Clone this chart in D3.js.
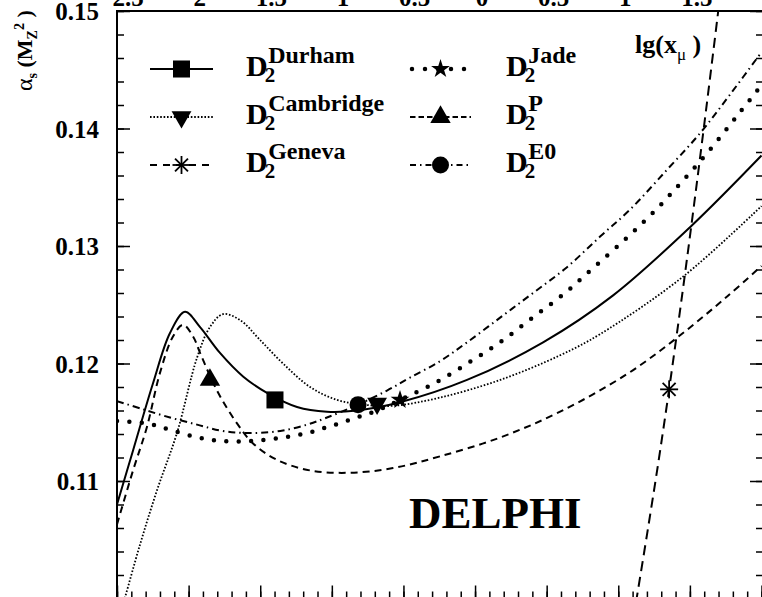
<!DOCTYPE html>
<html>
<head>
<meta charset="utf-8">
<script src="https://cdn.jsdelivr.net/npm/d3@7"></script>
<style>
  body { margin: 0; background: #fff; }
  svg { display: block; }
  text { font-family: "Liberation Serif", "Times New Roman", serif; font-weight: bold; fill: #000; }
</style>
</head>
<body>
<div class="svg-container"></div>
<script>
// curves: lg(x_mu) and alpha_s(M_Z^2)
const durhamLg  = [-2.5, -2.388, -2.249, -2.13, -2.025, -1.92, -1.781, -1.62, -1.453, -1.243, -1.034, -0.824, -0.524, -0.056, 0.475, 0.964, 1.501, 2.0];
const durhamVal = [0.1080, 0.1126, 0.1183, 0.1226, 0.1244, 0.1231, 0.1209, 0.1189, 0.1175, 0.1163, 0.1159, 0.1160, 0.1167, 0.1186, 0.1218, 0.1258, 0.1316, 0.1377];

const cambridgeLg  = [-2.5, -2.444, -2.339, -2.221, -2.081, -1.941, -1.851, -1.76, -1.641, -1.501, -1.341, -1.152, -0.964, -0.782, -0.573, -0.244, 0.175, 0.594, 0.873, 1.453, 2.0];
const cambridgeVal = [0.0978, 0.1001, 0.1046, 0.1092, 0.1141, 0.1205, 0.1231, 0.1242, 0.1237, 0.1220, 0.1200, 0.1180, 0.1169, 0.1165, 0.1164, 0.1171, 0.1186, 0.1207, 0.1225, 0.1274, 0.1334];

const genevaLg  = [1.05, 1.124, 1.20, 1.28, 1.355, 1.45, 1.53, 1.61, 1.69, 1.75];
const genevaVal = [0.0943, 0.0997, 0.1054, 0.1116, 0.1178, 0.1262, 0.1336, 0.1413, 0.1492, 0.1553];

const jadeLg  = [-2.5, -2.291, -2.116, -1.934, -1.76, -1.578, -1.397, -1.201, -1.027, -0.852, -0.684, -0.524, -0.272, -0.028, 0.196, 0.412, 0.628, 0.831, 1.068, 1.264, 1.446, 1.627, 1.851, 2.0];
const jadeVal = [0.1151, 0.1149, 0.1143, 0.1137, 0.1134, 0.1134, 0.1136, 0.1140, 0.1146, 0.1153, 0.1160, 0.1169, 0.1184, 0.1202, 0.1220, 0.1240, 0.1260, 0.1282, 0.1308, 0.1331, 0.1355, 0.1380, 0.1414, 0.1437];

const pLg  = [-2.5, -2.388, -2.291, -2.2, -2.109, -2.039, -1.969, -1.92, -1.802, -1.662, -1.55, -1.383, -1.152, -0.873, -0.573, -0.244, 0.175, 0.594, 1.061, 1.411, 1.76, 2.0];
const pVal = [0.1063, 0.1109, 0.1146, 0.1192, 0.1223, 0.1233, 0.1223, 0.1209, 0.1177, 0.1149, 0.1132, 0.1118, 0.1109, 0.1107, 0.1111, 0.1121, 0.1137, 0.1159, 0.1191, 0.1222, 0.1257, 0.1283];

const e0Lg  = [-2.5, -2.318, -2.13, -1.941, -1.781, -1.641, -1.501, -1.341, -1.173, -1.034, -0.817, -0.615, -0.454, -0.244, -0.056, 0.175, 0.405, 0.642, 0.873, 1.082, 1.341, 1.571, 1.781, 2.0];
const e0Val = [0.1168, 0.1161, 0.1154, 0.1148, 0.1143, 0.1141, 0.1141, 0.1143, 0.1148, 0.1154, 0.1165, 0.1177, 0.1188, 0.1202, 0.1218, 0.1239, 0.1260, 0.1282, 0.1308, 0.1331, 0.1365, 0.1396, 0.1429, 0.1465];

// one marker per scheme
const schemeNames = ["Durham", "Cambridge", "Geneva", "Jade", "P", "E0"];
const markerLg  = [-1.397, -0.684, 1.355, -0.524, -1.851, -0.817];
const markerVal = [0.1169, 0.1166, 0.1178, 0.1169, 0.1186, 0.1165];

const xTickLabels = ["-2.5", "-2", "-1.5", "-1", "-0.5", "0", "0.5", "1", "1.5", "2"];
const yTickValues = [0.11, 0.12, 0.13, 0.14, 0.15];

document.addEventListener("DOMContentLoaded", () => {

  let width = 762, height = 597;
  let plot = { left: 117, right: 761.5, top: 11, bottom: 598.5 };

  let svg = d3.select(".svg-container").append("svg")
    .attr("width", width)
    .attr("height", height);

  let x = d3.scaleLinear().domain([-2.5, 2]).range([plot.left, plot.right]);
  let y = d3.scaleLinear().domain([0.10, 0.15]).range([plot.bottom, plot.top]);

  // line styles per scheme (legend samples use slightly shorter dashes)
  let styles = {
    Durham:    { lg: durhamLg, val: durhamVal, width: 2, dash: null, legendDash: null },
    Cambridge: { lg: cambridgeLg, val: cambridgeVal, width: 1.8, dash: "1.6 1.8", legendDash: "1.6 1.8" },
    Geneva:    { lg: genevaLg, val: genevaVal, width: 2, dash: "10 6", legendDash: "7 6" },
    Jade:      { lg: jadeLg, val: jadeVal, width: 4.5, dash: "0 12.4", legendDash: "0 13", cap: "round" },
    P:         { lg: pLg, val: pVal, width: 2, dash: "7 5", legendDash: "5.5 3" },
    E0:        { lg: e0Lg, val: e0Val, width: 2, dash: "7 4 1.5 4", legendDash: "6 4 1.5 4" }
  };

  svg.append("clipPath").attr("id", "plotclip")
    .append("rect")
    .attr("x", plot.left).attr("y", plot.top)
    .attr("width", 763 - plot.left).attr("height", plot.bottom - plot.top);

  let line = d3.line()
    .x(d => x(d[0]))
    .y(d => y(d[1]))
    .curve(d3.curveCatmullRom.alpha(0.5));

  let curves = svg.append("g").attr("clip-path", "url(#plotclip)");

  schemeNames.forEach(name => {
    let s = styles[name];
    curves.append("path")
      .datum(d3.zip(s.lg, s.val))
      .attr("fill", "none")
      .attr("stroke", "#000")
      .attr("stroke-width", s.width)
      .attr("stroke-dasharray", s.dash)
      .attr("stroke-linecap", s.cap || "butt")
      .attr("d", line);
  });

  // marker shapes
  let drawMarker = (g, name, cx, cy) => {
    let m = g.append("g").attr("transform", "translate(" + cx + "," + cy + ")");
    if (name == "Durham") {
      m.append("path").attr("d", d3.symbol(d3.symbolSquare, 290)());
    } else if (name == "Cambridge") {
      m.append("path").attr("d", d3.symbol(d3.symbolTriangle, 170)()).attr("transform", "rotate(180)");
    } else if (name == "Geneva") {
      let r = 9;
      let arms = [[-r, 0, r, 0], [0, -r, 0, r], [-r * 0.72, -r * 0.72, r * 0.72, r * 0.72], [-r * 0.72, r * 0.72, r * 0.72, -r * 0.72]];
      arms.forEach(a => m.append("line")
        .attr("x1", a[0]).attr("y1", a[1]).attr("x2", a[2]).attr("y2", a[3])
        .attr("stroke", "#000").attr("stroke-width", 1.8));
    } else if (name == "Jade") {
      m.append("path").attr("d", d3.symbol(d3.symbolStar, 110)());
    } else if (name == "P") {
      m.append("path").attr("d", d3.symbol(d3.symbolTriangle, 180)());
    } else {
      m.append("circle").attr("r", 8.5);
    }
    m.selectAll("path, circle").attr("fill", "#000");
  };

  schemeNames.forEach((name, i) => {
    drawMarker(svg, name, x(markerLg[i]), y(markerVal[i]));
  });

  // frame
  svg.append("line")
    .attr("x1", plot.left).attr("x2", plot.left)
    .attr("y1", plot.top - 1).attr("y2", height)
    .attr("stroke", "#000").attr("stroke-width", 2);
  svg.append("line")
    .attr("x1", plot.left - 1).attr("x2", width)
    .attr("y1", plot.top).attr("y2", plot.top)
    .attr("stroke", "#000").attr("stroke-width", 2);

  let majorY = d3.range(0.10, 0.1501, 0.01);
  let minorY = d3.range(0.10, 0.1501, 0.002);
  let majorX = d3.range(-2.5, 2.01, 0.5);
  let minorX = d3.range(-2.5, 2.01, 0.1);

  let tickAxis = (axis, tx, ty) => {
    let g = svg.append("g")
      .attr("transform", "translate(" + tx + "," + ty + ")")
      .call(axis);
    g.select(".domain").remove();
    g.selectAll("line").attr("stroke-width", 1.5);
    return g;
  };

  // left ticks point inwards
  tickAxis(d3.axisRight(y).tickValues(minorY).tickSize(7).tickFormat(""), plot.left, 0);
  tickAxis(d3.axisRight(y).tickValues(majorY).tickSize(13).tickFormat(""), plot.left, 0);
  // right ticks
  tickAxis(d3.axisLeft(y).tickValues(minorY).tickSize(7).tickFormat(""), 763, 0);
  tickAxis(d3.axisLeft(y).tickValues(majorY).tickSize(13).tickFormat(""), 763, 0);
  // bottom ticks
  tickAxis(d3.axisTop(x).tickValues(minorX).tickSize(7).tickFormat(""), 0, plot.bottom);
  tickAxis(d3.axisTop(x).tickValues(majorX).tickSize(13).tickFormat(""), 0, plot.bottom);

  // y tick labels
  let yLabels = svg.append("g")
    .attr("transform", "translate(" + plot.left + ",0)")
    .call(d3.axisLeft(y).tickValues(yTickValues).tickSize(0).tickPadding(18).tickFormat(d3.format(".2f")));
  yLabels.select(".domain").remove();
  yLabels.selectAll("text")
    .attr("font-size", 25)
    .attr("font-family", "'Liberation Serif', 'Times New Roman', serif")
    .attr("font-weight", "bold")
    .attr("dy", "0.34em");

  // x tick labels of the panel above, cut by the top edge (minus signs fall outside)
  let xLabels = svg.append("g")
    .attr("transform", "translate(0," + plot.top + ")")
    .call(d3.axisTop(x).tickValues(majorX).tickSize(0).tickPadding(5).tickFormat(""));
  xLabels.select(".domain").remove();
  xLabels.selectAll("text")
    .attr("font-size", 25)
    .attr("font-family", "'Liberation Serif', 'Times New Roman', serif")
    .attr("font-weight", "bold")
    .attr("dx", 6.5)
    .each(function(d, i) {
      let t = d3.select(this);
      let s = xTickLabels[i];
      if (s[0] == "-") {
        t.append("tspan").attr("dy", -9).text("-");
        t.append("tspan").attr("dy", 9).text(s.slice(1));
      } else {
        t.text(s);
      }
    });

  // legend
  let legendRows = [69, 117, 165];
  let legendCols = [{ x0: 150, x1: 213, xt: 246 }, { x0: 410, x1: 471, xt: 506 }];

  schemeNames.forEach((name, i) => {
    let col = legendCols[Math.floor(i / 3)];
    let ly = legendRows[i % 3];
    let s = styles[name];
    let xs = name == "Jade" ? col.x0 + 2 : col.x0;
    svg.append("line")
      .attr("x1", xs).attr("x2", col.x1)
      .attr("y1", ly).attr("y2", ly)
      .attr("stroke", "#000")
      .attr("stroke-width", s.width)
      .attr("stroke-dasharray", s.legendDash)
      .attr("stroke-linecap", s.cap || "butt");
    drawMarker(svg, name, (col.x0 + col.x1) / 2, ly);

    let t = svg.append("text")
      .attr("x", col.xt)
      .attr("y", ly + 7);
    t.append("tspan").attr("font-size", 30).text("D");
    t.append("tspan").attr("font-size", 21).attr("dx", -3).attr("dy", 6).text("2");
    t.append("tspan").attr("font-size", 24).attr("dx", -7).attr("dy", -19).text(name);
  });

  // lg(x_mu)
  let lgLabel = svg.append("text")
    .attr("x", 635)
    .attr("y", 53)
    .attr("font-size", 26);
  lgLabel.append("tspan").text("lg(x");
  lgLabel.append("tspan").attr("font-size", 17).attr("font-weight", "normal").attr("dy", 7).text("\u03bc");
  lgLabel.append("tspan").attr("dy", -7).text(" )");

  // y axis title
  let yTitle = svg.append("text")
    .attr("transform", "translate(32,91) rotate(-90)")
    .attr("font-size", 22);
  yTitle.append("tspan").attr("font-weight", "normal").attr("font-size", 24).text("\u03b1");
  yTitle.append("tspan").attr("font-size", 14).attr("dy", 5).text("s");
  yTitle.append("tspan").attr("dy", -5).text(" (M");
  yTitle.append("tspan").attr("font-size", 14).attr("dy", 5).text("Z");
  yTitle.append("tspan").attr("font-size", 14).attr("dy", -13).text("2");
  yTitle.append("tspan").attr("dy", 8).text(" )");

  svg.append("text")
    .attr("x", 409)
    .attr("y", 528)
    .attr("font-size", 45)
    .text("DELPHI");
});
</script>
</body>
</html>
